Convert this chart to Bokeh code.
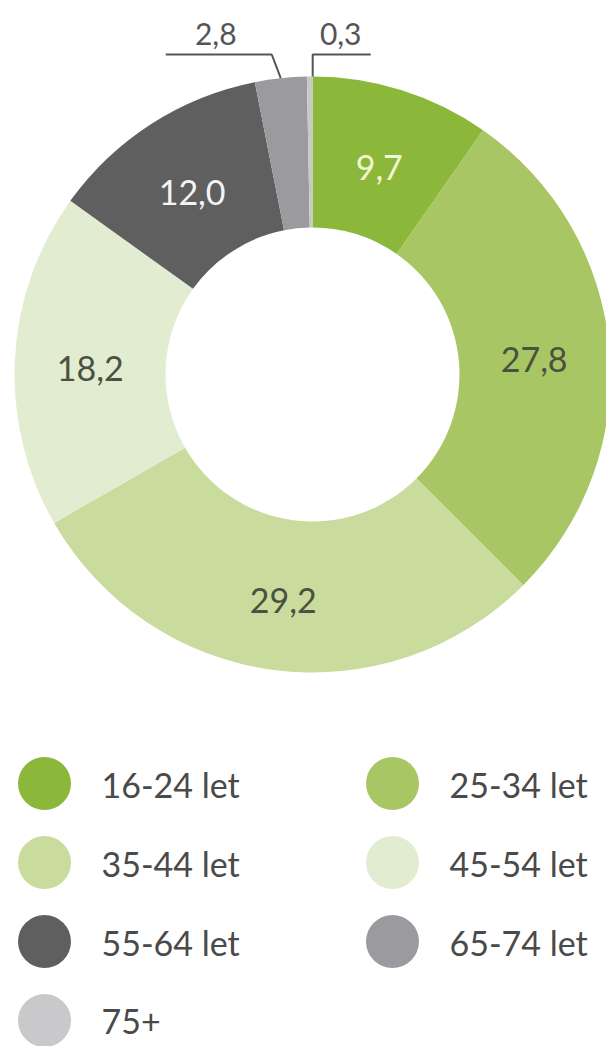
import numpy as np
from bokeh.plotting import figure
from bokeh.models import Range1d, ColumnDataSource
from bokeh.core.properties import value
from bokeh.embed import file_html
from bokeh.resources import INLINE

# ---------------- data ----------------
categories = ["16-24 let", "25-34 let", "35-44 let", "45-54 let", "55-64 let", "65-74 let", "75+"]
values = [9.7, 27.8, 29.2, 18.2, 12.0, 2.8, 0.3]
value_labels = ["9,7", "27,8", "29,2", "18,2", "12,0", "2,8", "0,3"]
colors = ["#8bb83b", "#a9c665", "#c9dc9d", "#e2ecd0", "#5f5f5f", "#9b9a9e", "#c9c9cb"]
label_colors = ["#f1f6cf", "#4b5140", "#4b5140", "#4b5140", "#f4f4f4", "#555555", "#555555"]

FONT = "Lato"

# ---------------- layout (page pixels) ----------------
W, H = 606, 1046
def PY(py):
    return H - py

cx, cy = 312, PY(374)
R_OUT, R_IN = 298, 147

p = figure(width=W, height=H, output_backend="svg", toolbar_location=None,
           x_range=Range1d(0, W), y_range=Range1d(0, H),
           x_axis_location=None, y_axis_location=None, min_border=0)
p.outline_line_color = None
p.grid.visible = False
p.background_fill_color = "white"
p.border_fill_color = "white"

vals = np.array(values, dtype=float)
cum = np.concatenate([[0.0], np.cumsum(vals)]) / vals.sum()
start = np.pi / 2 - 2 * np.pi * cum[:-1]
end = np.pi / 2 - 2 * np.pi * cum[1:]
mid = (start + end) / 2

src = ColumnDataSource(dict(start=start, end=end, color=colors, cat=categories))
p.annular_wedge(x=cx, y=cy, inner_radius=R_IN, outer_radius=R_OUT,
                start_angle="start", end_angle="end", direction="clock",
                fill_color="color", line_color=None, source=src)

# inside labels
big = [i for i, v in enumerate(values) if v >= 5]
rm = (R_IN + R_OUT) / 2
lx = [cx + rm * np.cos(mid[i]) for i in big]
ly = [cy + rm * np.sin(mid[i]) - 5 for i in big]
p.text(x=lx, y=ly, text=[value_labels[i] for i in big],
       text_color=[label_colors[i] for i in big],
       text_font=value(FONT), text_font_size="34px",
       text_align="center", text_baseline="middle")

# outside labels with leader lines
small = [i for i, v in enumerate(values) if v < 5]
for k, i in enumerate(small):
    ax = cx + R_OUT * np.cos(mid[i])
    ay = cy + R_OUT * np.sin(mid[i])
    ey = PY(54)
    if k == 0:
        ex = ax - 9
        xs = [ax, ex, ex - 106]
        tx = ex - 56
    else:
        ex = ax + 3
        xs = [ex, ex, ex + 58]
        tx = ex + 28
    ys = [ay, ey, ey]
    p.line(x=xs, y=ys, line_color="#555555", line_width=2)
    p.text(x=[tx], y=[PY(33)], text=[value_labels[i]], text_color=label_colors[i],
           text_font=value(FONT), text_font_size="30px",
           text_align="center", text_baseline="middle")

# legend
col_cx = [44, 392]
col_tx = [101, 449]
row0, row_step = 783, 79
leg_x, leg_y, leg_tx, leg_ty = [], [], [], []
for i, c in enumerate(categories):
    row, col = divmod(i, 2)
    yy = PY(row0 + row * row_step)
    leg_x.append(col_cx[col]); leg_y.append(yy)
    leg_tx.append(col_tx[col]); leg_ty.append(yy - 1)
p.scatter(x=leg_x, y=leg_y, size=53, marker="circle", fill_color=colors, line_color=None)
p.text(x=leg_tx, y=leg_ty, text=categories, text_color="#4a4a4a",
       text_font=value(FONT), text_font_size="34px",
       text_align="left", text_baseline="middle")

open("out.html", "w").write(file_html(p, INLINE))
